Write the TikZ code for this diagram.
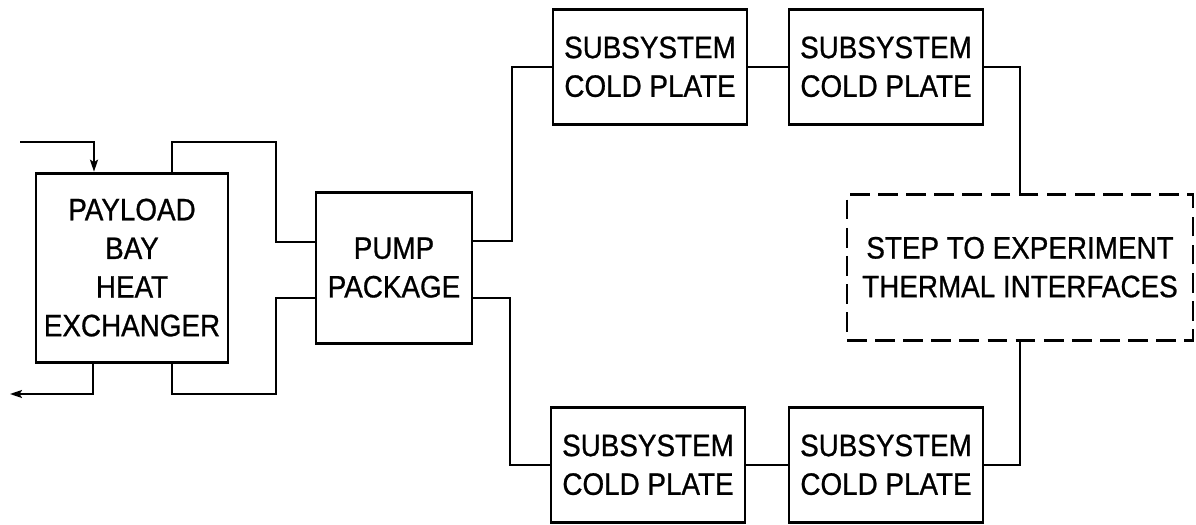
\documentclass[tikz,border=0pt]{standalone}
\usepackage{fontspec}
\setmainfont[FakeStretch=0.9, FakeBold=0.8]{Liberation Sans}
\usepackage{tikz}
\usetikzlibrary{arrows.meta,positioning,calc}

\begin{document}
\begin{tikzpicture}[
    box/.style={draw, line width=2pt, align=center, inner sep=0pt, font=\fontsize{22}{27.5}\selectfont},
    plate/.style={box, minimum width=4.85cm, minimum height=2.88cm},
    stepbox/.style={box, line width=2pt, dash pattern=on 14pt off 6pt, minimum width=8.65cm, minimum height=3.65cm},
    pipe/.style={line width=1.4pt},
    arrow/.style={pipe, -{Stealth[length=3mm, width=2mm, inset=0.6mm]}}
]
\useasboundingbox (0,0) rectangle (29.9,13.1);

% Heat exchanger and pump
\node[box, minimum width=4.8cm, minimum height=4.725cm] (hx) at (3.3, 6.41) {PAYLOAD\\BAY\\HEAT\\EXCHANGER};
\node[box, minimum width=3.9cm, minimum height=3.775cm] (pump) at (9.85, 6.41) {PUMP\\PACKAGE};

% Cold plates
\node[plate] (cp1) at (16.25, 11.43) {SUBSYSTEM\\COLD PLATE};
\node[plate] (cp2) at (22.15, 11.43) {SUBSYSTEM\\COLD PLATE};
\node[plate] (cp3) at (16.2, 1.48) {SUBSYSTEM\\COLD PLATE};
\node[plate] (cp4) at (22.15, 1.48) {SUBSYSTEM\\COLD PLATE};

% Experiment interfaces
\node[stepbox] (exp) at (25.5, 6.42) {STEP TO EXPERIMENT\\THERMAL INTERFACES};

% Free ends and corners
\coordinate (in) at (0.5, 9.55);
\coordinate (out) at (0.25, 3.25);
\coordinate (tl) at (6.9, 9.55);
\coordinate (bl) at (6.9, 3.25);

% Bay loop
\draw[arrow] (in) -| ([xshift=-0.95cm]hx.north);
\draw[arrow] ([xshift=-0.975cm]hx.south) |- (out);
\draw[pipe] ([xshift=1cm]hx.north) |- (tl) |- ([yshift=0.65cm]pump.west);
\draw[pipe] ([xshift=1cm]hx.south) |- (bl) |- ([yshift=-0.77cm]pump.west);

% Cold plate loop
\draw[pipe] ([yshift=0.66cm]pump.east) -| ([xshift=-1cm]cp1.west) -- (cp1.west);
\draw[pipe] ([yshift=-0.76cm]pump.east) -| ([xshift=-1cm]cp3.west) -- (cp3.west);
\draw[pipe] (cp1) -- (cp2);
\draw[pipe] (cp3) -- (cp4);
\draw[pipe] (cp2.east) -| (exp.north);
\draw[pipe] (exp.south) |- (cp4.east);

\end{tikzpicture}
\end{document}
